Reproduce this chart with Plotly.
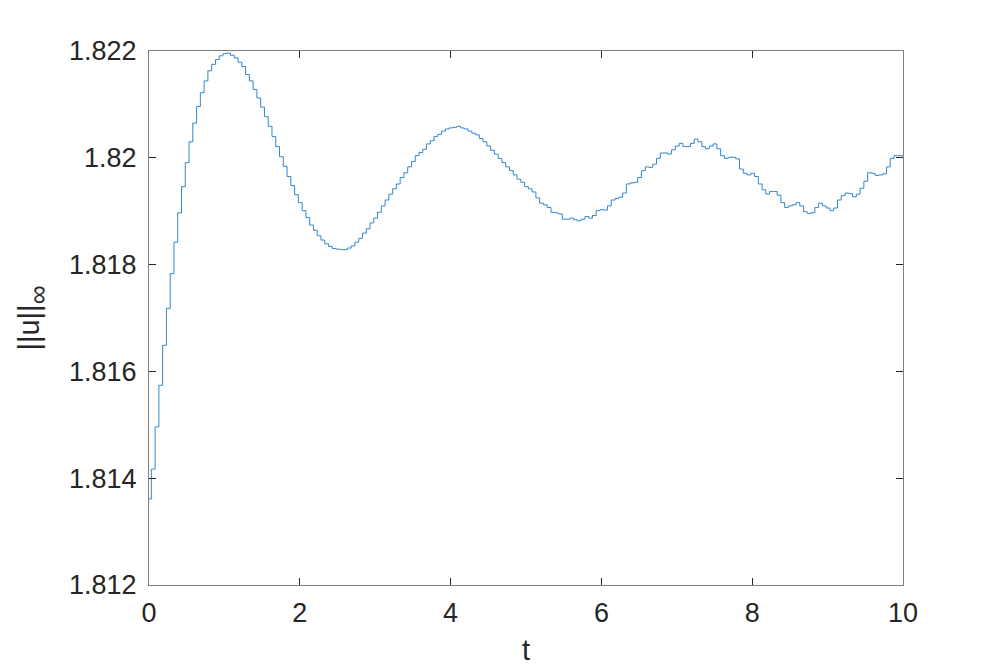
import numpy as np
import plotly.graph_objects as go

# sampled values of ||u||_inf at each time level (step plot)
u_inf = [
    1.81361, 1.81417, 1.81496, 1.81574, 1.81649, 1.81718, 1.81783, 1.81842, 1.81897, 1.81946,
    1.81991, 1.82030, 1.82065, 1.82096, 1.82122, 1.82144, 1.82163, 1.82175, 1.82184, 1.82191,
    1.82195, 1.82196, 1.82192, 1.82187, 1.82179, 1.82171, 1.82156, 1.82144, 1.82128, 1.82112,
    1.82095, 1.82077, 1.82059, 1.82040, 1.82021, 1.82002, 1.81984, 1.81965, 1.81948, 1.81931,
    1.81916, 1.81901, 1.81888, 1.81874, 1.81864, 1.81854, 1.81846, 1.81839, 1.81834, 1.81830,
    1.81829, 1.81828, 1.81828, 1.81831, 1.81835, 1.81842, 1.81849, 1.81859, 1.81867, 1.81878,
    1.81887, 1.81898, 1.81910, 1.81921, 1.81932, 1.81942, 1.81951, 1.81963, 1.81972, 1.81983,
    1.81993, 1.82004, 1.82010, 1.82016, 1.82026, 1.82032, 1.82040, 1.82044, 1.82050, 1.82054,
    1.82056, 1.82057, 1.82059, 1.82056, 1.82054, 1.82050, 1.82046, 1.82043, 1.82036, 1.82030,
    1.82022, 1.82014, 1.82007, 1.81999, 1.81991, 1.81983, 1.81976, 1.81968, 1.81960, 1.81954,
    1.81946, 1.81942, 1.81936, 1.81925, 1.81915, 1.81912, 1.81907, 1.81898, 1.81897, 1.81895,
    1.81885, 1.81885, 1.81887, 1.81884, 1.81882, 1.81885, 1.81890, 1.81887, 1.81892, 1.81901,
    1.81903, 1.81902, 1.81910, 1.81921, 1.81924, 1.81926, 1.81934, 1.81951, 1.81953, 1.81954,
    1.81963, 1.81976, 1.81983, 1.81982, 1.81988, 1.81999, 1.82009, 1.82009, 1.82007, 1.82015,
    1.82022, 1.82027, 1.82021, 1.82021, 1.82027, 1.82035, 1.82030, 1.82021, 1.82017, 1.82022,
    1.82026, 1.82017, 1.82004, 1.81999, 1.82001, 1.82001, 1.81998, 1.81979, 1.81971, 1.81968,
    1.81971, 1.81965, 1.81951, 1.81940, 1.81932, 1.81937, 1.81937, 1.81930, 1.81916, 1.81907,
    1.81910, 1.81912, 1.81916, 1.81910, 1.81899, 1.81896, 1.81897, 1.81907, 1.81915, 1.81910,
    1.81906, 1.81901, 1.81906, 1.81921, 1.81929, 1.81934, 1.81933, 1.81927, 1.81932, 1.81943,
    1.81956, 1.81972, 1.81971, 1.81967, 1.81968, 1.81970, 1.81983, 1.81999, 1.82004, 1.82004,
    1.82004,
]

t_start = 0.0
t_first = 0.031
dt = 0.05
t_end = 10.0

x_ticks = [0, 2, 4, 6, 8, 10]
x_ticktext = ["0", "2", "4", "6", "8", "10"]
y_ticks = [1.812, 1.814, 1.816, 1.818, 1.820, 1.822]
y_ticktext = ["1.812", "1.814", "1.816", "1.818", "1.82", "1.822"]

# time grid of the stairs
t = [t_start] + [t_first + dt * i for i in range(len(u_inf) - 1)]
x = t + [t_end]
y = u_inf + [u_inf[-1]]

fig = go.Figure()
fig.add_trace(go.Scatter(
    x=x, y=y, mode="lines", line=dict(color="#3388cc", width=1, shape="hv"),
    showlegend=False, hoverinfo="skip",
))

font_family = "Liberation Sans, Arial, Helvetica, sans-serif"
axis_color = "#262626"

fig.update_layout(
    width=997, height=668,
    margin=dict(l=141, r=102, t=43, b=91),
    paper_bgcolor="white", plot_bgcolor="white",
    font=dict(family=font_family, color=axis_color),
)
fig.update_xaxes(
    range=[0, 10], tickvals=x_ticks, ticktext=x_ticktext,
    showline=True, linecolor="#7f7f7f", linewidth=1, mirror="ticks",
    ticks="inside", ticklen=7, tickcolor=axis_color, tickwidth=1,
    showgrid=False, zeroline=False,
    tickfont=dict(size=27, color=axis_color),
    ticklabelstandoff=4,
    title=dict(text="t", font=dict(size=29, color=axis_color), standoff=12),
    automargin=False,
)
fig.update_yaxes(
    range=[1.812, 1.822], tickvals=y_ticks, ticktext=y_ticktext,
    showline=True, linecolor="#7f7f7f", linewidth=1, mirror="ticks",
    ticks="inside", ticklen=7, tickcolor=axis_color, tickwidth=1,
    showgrid=False, zeroline=False,
    tickfont=dict(size=27, color=axis_color),
    ticklabelstandoff=6,
    title=dict(text="||u||<span style='font-size:38px'><sub>∞</sub></span>",
               font=dict(size=29, color=axis_color), standoff=20),
    automargin=False,
)

fig.write_html("out.html")
